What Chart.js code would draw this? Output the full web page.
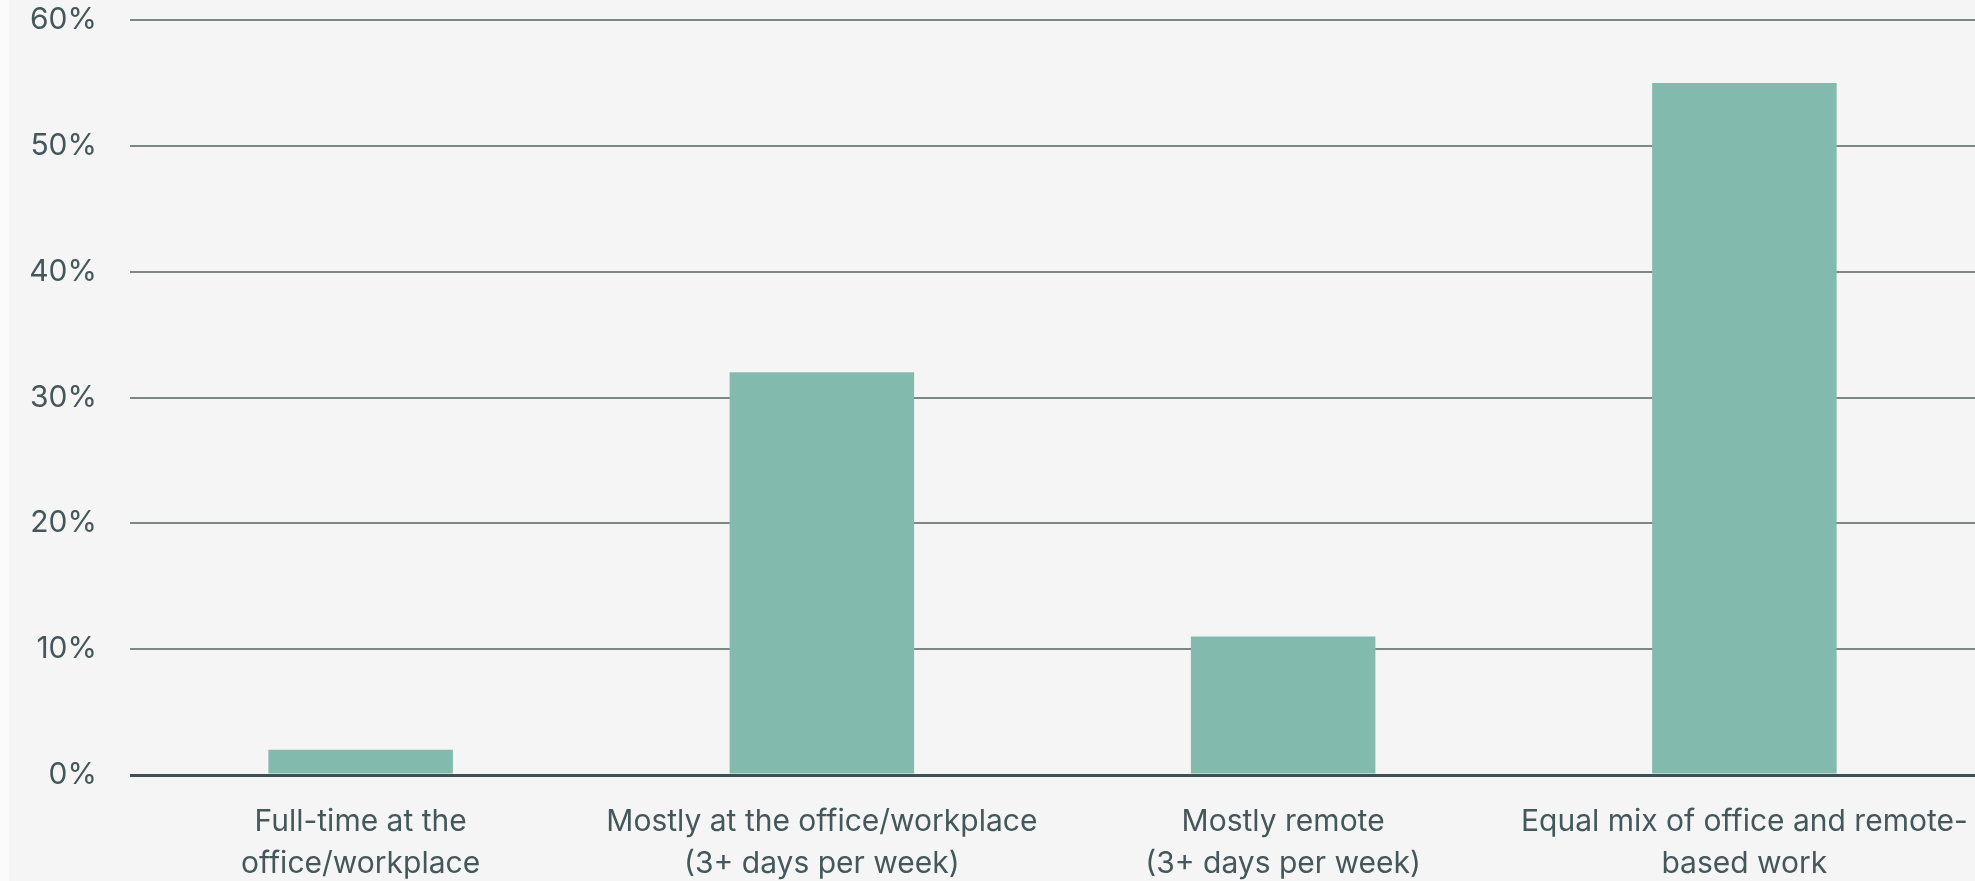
<!DOCTYPE html>
<html>
<head>
<meta charset="utf-8">
<script src="https://cdn.jsdelivr.net/npm/chart.js@4"></script>
<style>
    html, body { margin: 0; padding: 0; background: #f5f5f5; }
    #wrap { width: 1975px; height: 881px; }
</style>
</head>
<body>
<div id="wrap"><canvas id="workChart" width="1975" height="881"></canvas></div>
<script>
// Preferred working arrangement (share of respondents, %)
const categories = [
    ['Full-time at the', 'office/workplace'],
    ['Mostly at the office/workplace', '(3+ days per week)'],
    ['Mostly remote', '(3+ days per week)'],
    ['Equal mix of office and remote-', 'based work']
];
const shares = [2, 32, 11, 55];
const yTicks = [0, 10, 20, 30, 40, 50, 60];

const textColor = '#44575b';

// page background with the thin lighter strip down the left edge
const backdrop = {
    id: 'backdrop',
    beforeDraw(chart) {
        const c = chart.ctx;
        c.save();
        c.fillStyle = '#f5f5f5';
        c.fillRect(0, 0, chart.width, chart.height);
        c.fillStyle = '#fbfbfb';
        c.fillRect(0, 0, 9, chart.height);
        c.restore();
    }
};

const ctx = document.getElementById('workChart').getContext('2d');

new Chart(ctx, {
    type: 'bar',
    data: {
        labels: categories,
        datasets: [{
            data: shares,
            backgroundColor: '#82bbad',
            borderWidth: 0,
            barPercentage: 0.4,
            categoryPercentage: 1.0
        }]
    },
    plugins: [backdrop],
    options: {
        responsive: false,
        animation: false,
        layout: { padding: { top: 20, right: 0, bottom: 0, left: 0 } },
        plugins: {
            legend: { display: false },
            tooltip: { enabled: false }
        },
        scales: {
            x: {
                grid: { display: false, drawTicks: false },
                border: { display: false },
                ticks: {
                    color: textColor,
                    font: { family: 'Inter', size: 30, lineHeight: 1.4 },
                    padding: 26,
                    maxRotation: 0,
                    autoSkip: false
                },
                afterFit: scale => {
                    // let the plot run to the right edge; the last label fits anyway
                    scale.height = 106;
                    scale.paddingLeft = 0;
                    scale.paddingRight = 0;
                }
            },
            y: {
                min: 0,
                max: 60,
                afterBuildTicks: scale => {
                    scale.ticks = yTicks.map(v => ({ value: v }));
                },
                grid: {
                    drawTicks: true,
                    tickLength: 33,
                    tickColor: 'rgba(0,0,0,0)',
                    color: c => c.tick && c.tick.value === 0 ? '#3e5055' : '#7b8886',
                    lineWidth: c => c.tick && c.tick.value === 0 ? 3 : 2
                },
                border: { display: false },
                ticks: {
                    color: textColor,
                    font: { family: 'Inter', size: 30 },
                    padding: 0,
                    callback: v => v + '%'
                },
                afterFit: scale => { scale.width = 130; }
            }
        }
    }
});
</script>
</body>
</html>
